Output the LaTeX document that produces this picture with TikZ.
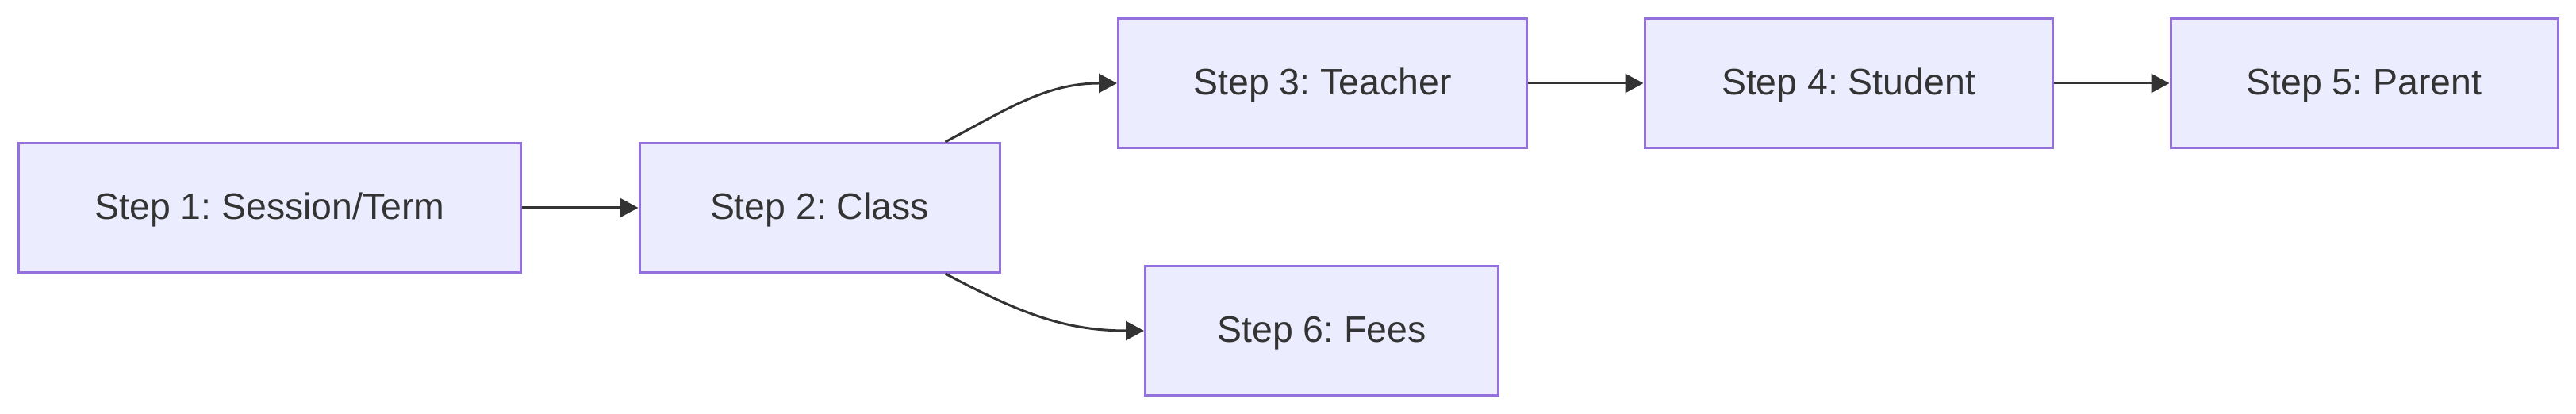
\documentclass[tikz,border=0pt]{standalone}
\usepackage{fontspec}
\setmainfont{Liberation Sans}
\usetikzlibrary{positioning, arrows.meta}

\definecolor{boxfill}{HTML}{ECECFF}
\definecolor{boxline}{HTML}{9370DB}
\definecolor{linkgray}{HTML}{333333}

\tikzset{stepbox/.style={draw=boxline, fill=boxfill, line width=0.75pt,
    minimum height=40.75pt, inner sep=0pt, text=linkgray,
    text height=9.5pt, text depth=2pt,
    font=\fontsize{11.6}{14}\selectfont}}

\frenchspacing
\begin{document}
\begin{tikzpicture}
[->,>={Triangle[length=5.75pt,width=6pt]},
                    on grid,line width=0.75pt,
                    every edge/.style={draw=linkgray}]
\useasboundingbox (-85pt,65.5pt) rectangle (726.75pt,-65pt);
\node[stepbox, minimum width=158pt] (session) {Step 1: Session/Term};
\node[stepbox, minimum width=113.5pt, right=173.25pt of session] (class) {Step 2: Class};
\node[stepbox, minimum width=128.75pt, above right=39.25pt and 158.5pt of class] (teacher) {Step 3: Teacher};
\node[stepbox, minimum width=128.5pt, right=165.75pt of teacher] (student) {Step 4: Student};
\node[stepbox, minimum width=122pt, right=162.5pt of student] (parent) {Step 5: Parent};
\node[stepbox, minimum width=111.25pt, below right=38.75pt and 158.25pt of class] (fees) {Step 6: Fees};

\path[->]
	(session) edge (class)
	([xshift=-17.5pt]class.north east) edge [out=28, in=180] (teacher)
	([xshift=-17.5pt]class.south east) edge [out=-28, in=180] (fees)
	(teacher) edge (student)
	(student) edge (parent);
\end{tikzpicture}
\end{document}
